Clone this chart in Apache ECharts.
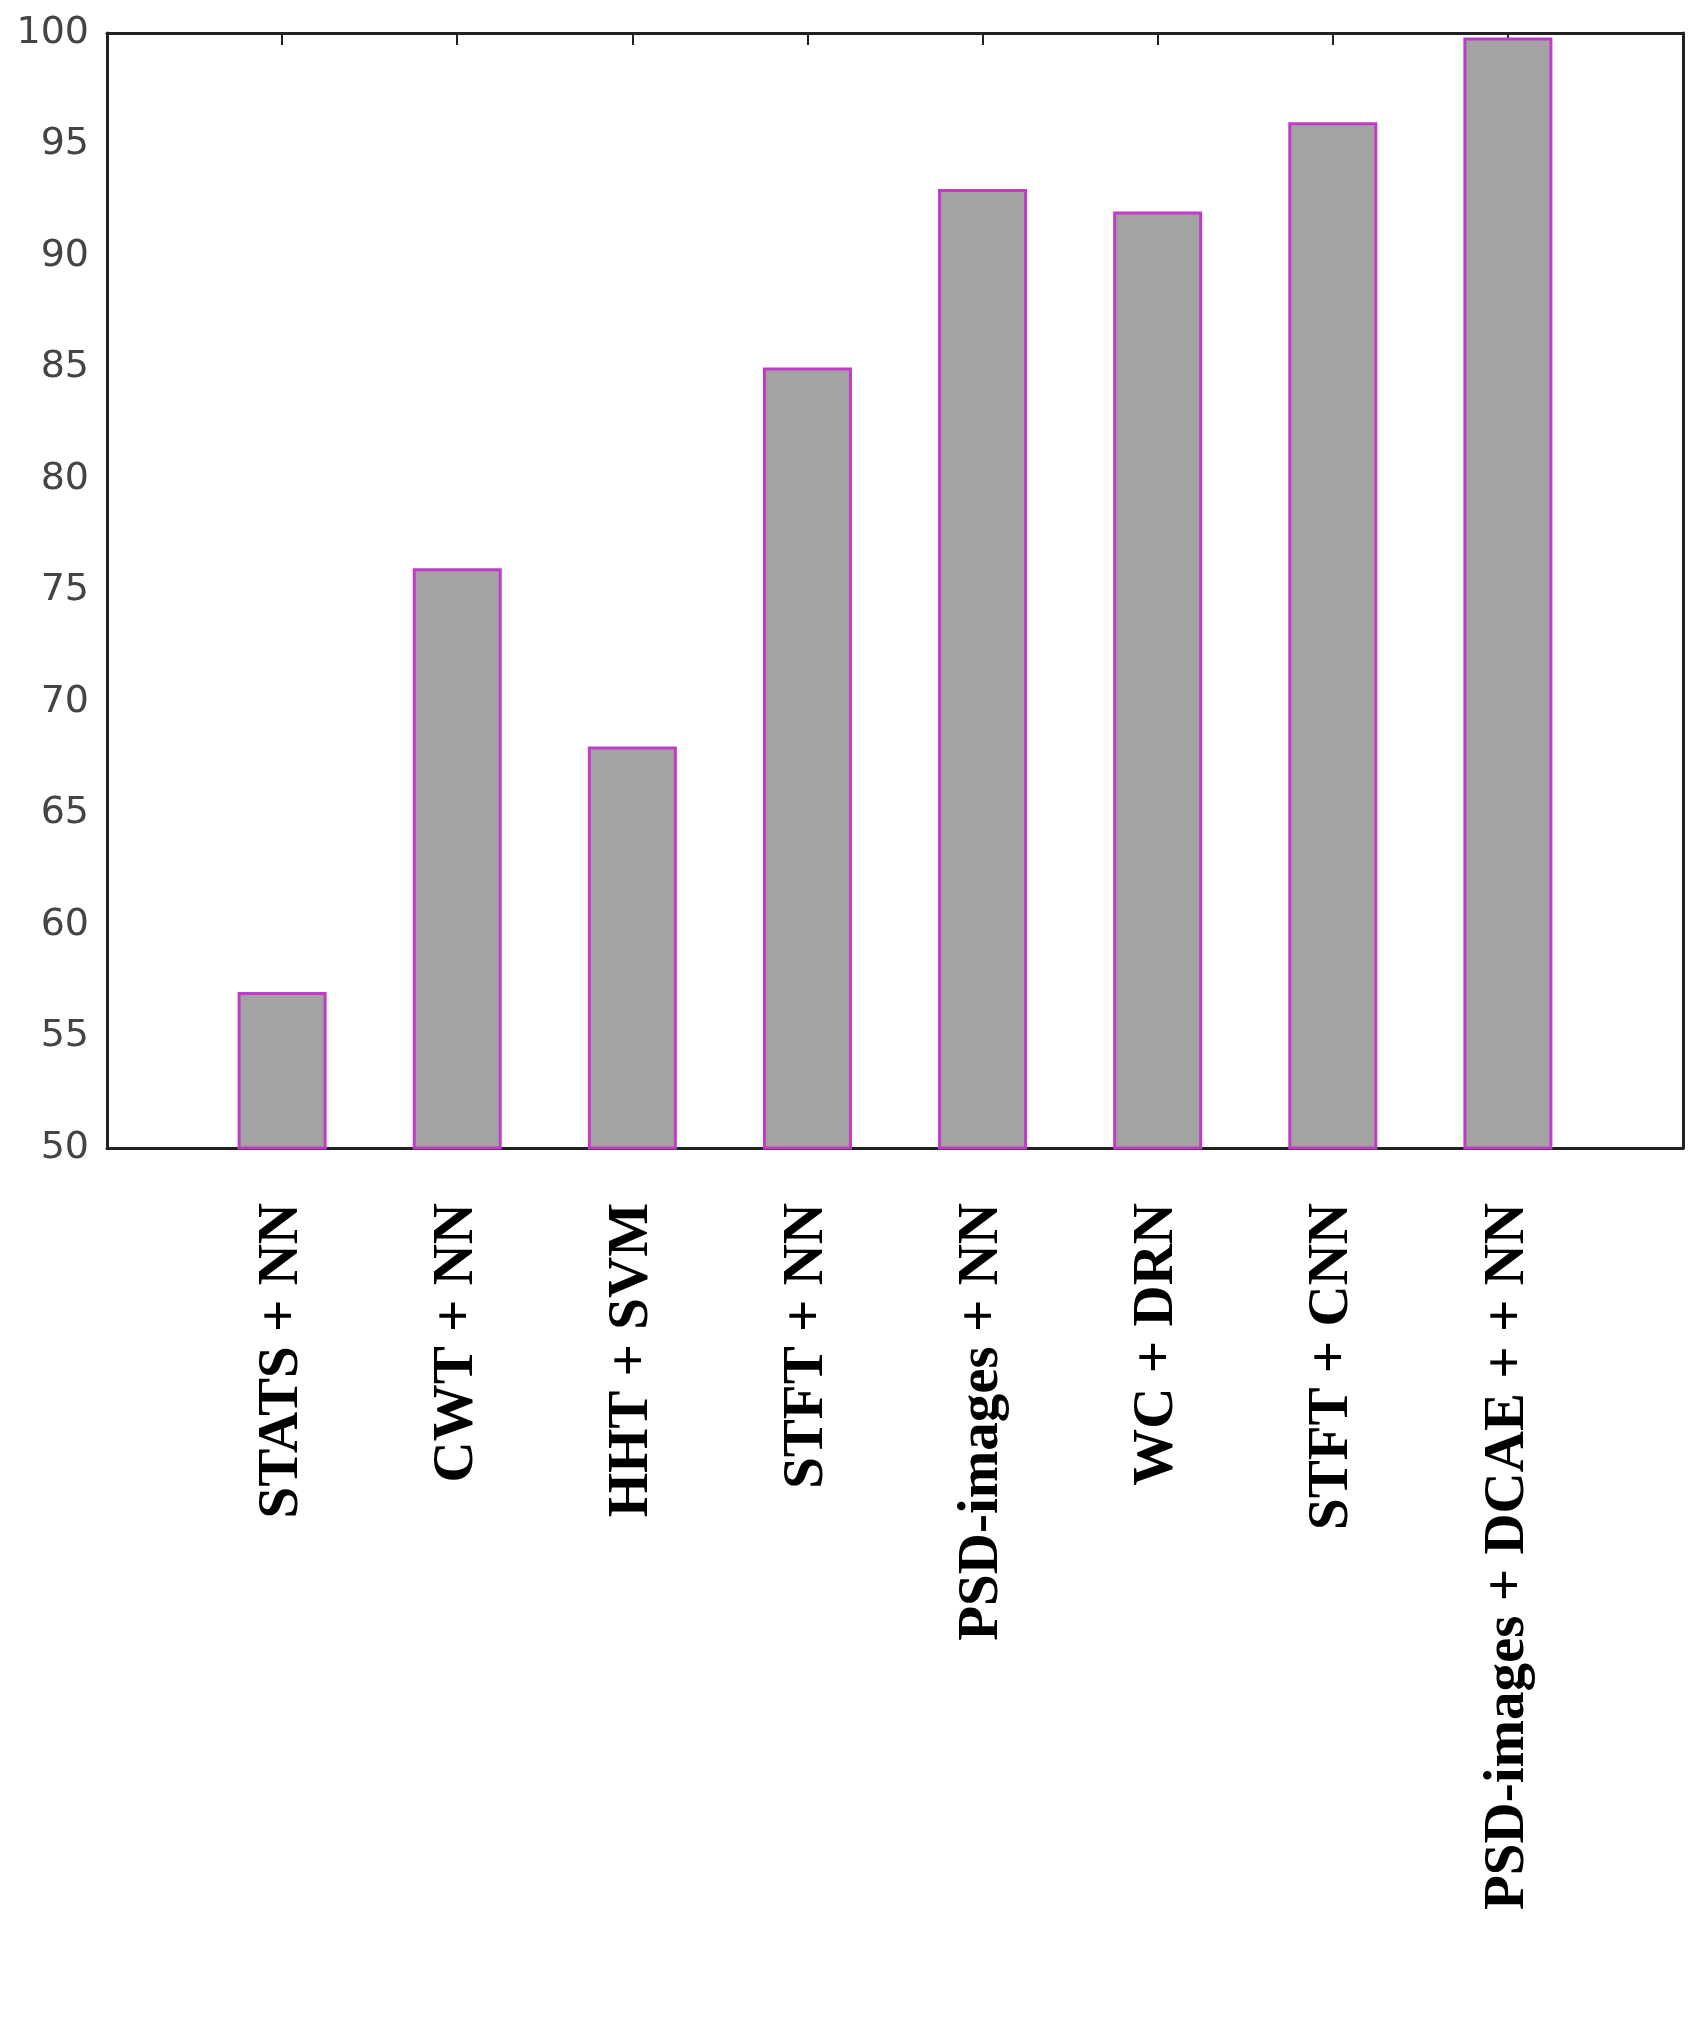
<!DOCTYPE html><html><head><meta charset="utf-8"><script src="https://cdn.jsdelivr.net/npm/echarts@6/dist/echarts.min.js"></script>
<style>html,body{margin:0;background:#fff}#c{width:1703px;height:2019px}</style></head><body><div id="c"></div><script>
const categories=['','STATS + NN','CWT + NN','HHT + SVM','STFT + NN','PSD-images + NN','WC + DRN','STFT + CNN','PSD-images + DCAE + + NN',''];
const values=[null,57,76,68,85,93,92,96,99.8,null];
const yTicks=[50,55,60,65,70,75,80,85,90,95,100];
const chart=echarts.init(document.getElementById('c'));
const axLine={show:true,lineStyle:{color:'#222',width:3}};
chart.setOption({animation:false,
grid:{left:107,right:20,top:33,bottom:2019-1148},
xAxis:[{type:'category',data:categories,boundaryGap:false,axisLine:axLine,
 axisTick:{inside:true,length:12,lineStyle:{color:'#222',width:2},interval:(i)=>i>0&&i<9},
 axisLabel:{rotate:90,interval:0,fontFamily:'Liberation Serif',fontWeight:'bold',fontSize:57,color:'#000',margin:55}},
 {type:'category',data:categories,boundaryGap:false,position:'top',axisLine:axLine,
 axisTick:{inside:true,length:12,lineStyle:{color:'#222',width:2},interval:(i)=>i>0&&i<9},axisLabel:{show:false}}],
yAxis:[{type:'value',min:50,max:100,interval:5,axisLine:axLine,splitLine:{show:false},
 axisTick:{inside:true,length:12,lineStyle:{color:'#222',width:2}},
 axisLabel:{fontFamily:'DejaVu Sans',fontSize:38,color:'#444',margin:18}},
 {type:'value',min:50,max:100,interval:5,position:'right',axisLine:axLine,splitLine:{show:false},
 axisTick:{inside:true,length:12,lineStyle:{color:'#222',width:2}},axisLabel:{show:false}}],
series:[{type:'bar',data:values,barWidth:89,itemStyle:{color:'#a3a3a3',borderColor:'#c03cc8',borderWidth:3}}]
});
</script></body></html>
